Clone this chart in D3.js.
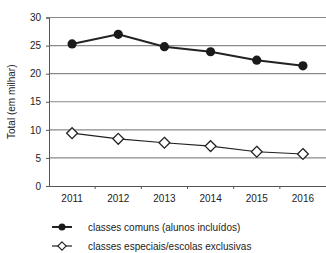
<!DOCTYPE html>
<html>
<head>
<meta charset="utf-8">
<script src="https://cdn.jsdelivr.net/npm/d3@7"></script>
<style>
  body { margin: 0; background: #fff; }
  text { font-family: 'Liberation Sans', Arial, sans-serif; fill: #222; }
</style>
</head>
<body>
<div id="chart"></div>
<script>
var years = ['2011', '2012', '2013', '2014', '2015', '2016'];
var comuns = [25.3, 27.0, 24.8, 23.9, 22.4, 21.4];
var especiais = [9.4, 8.4, 7.7, 7.1, 6.1, 5.7];
var yTicks = [0, 5, 10, 15, 20, 25, 30];
var seriesNames = ['classes comuns (alunos incluídos)', 'classes especiais/escolas exclusivas'];

var width = 326, height = 253;
var plotLeft = 49, plotRight = 326, plotTop = 17.5, plotBottom = 186;

var svg = d3.select('#chart')
  .append('svg')
    .attr('width', width)
    .attr('height', height);

var x = d3.scaleBand()
    .domain(years)
    .range([plotLeft, plotRight]);

var y = d3.scaleLinear()
    .domain([0, 30])
    .range([plotBottom, plotTop]);

// horizontal grid
svg.append('g')
  .selectAll('line')
  .data(yTicks.slice(1))
  .enter().append('line')
    .attr('x1', plotLeft)
    .attr('x2', plotRight)
    .attr('y1', function(d) { return y(d); })
    .attr('y2', function(d) { return y(d); })
    .attr('stroke', '#8a8a8a')
    .attr('stroke-width', 1.2);

// y axis
var yAxis = svg.append('g')
    .attr('transform', 'translate(' + plotLeft + ',0)')
    .call(d3.axisLeft(y).tickValues(yTicks).tickSize(3).tickPadding(5));
yAxis.select('.domain').attr('stroke', '#555');
yAxis.selectAll('line').attr('stroke', '#555');
yAxis.selectAll('text').attr('font-size', 10).attr('fill', '#222');

// x axis, ticks at band edges
var xAxis = svg.append('g')
    .attr('transform', 'translate(0,' + plotBottom + ')')
    .call(d3.axisBottom(x).tickSize(0).tickPadding(9));
xAxis.select('.domain').attr('stroke', '#555');
xAxis.selectAll('text').attr('font-size', 10).attr('fill', '#222');
svg.append('g')
  .selectAll('line')
  .data(years.slice(1))
  .enter().append('line')
    .attr('x1', function(d) { return x(d); })
    .attr('x2', function(d) { return x(d); })
    .attr('y1', plotBottom)
    .attr('y2', plotBottom + 3)
    .attr('stroke', '#555');

svg.append('text')
    .attr('transform', 'translate(15,' + ((plotTop + plotBottom) / 2) + ') rotate(-90)')
    .attr('text-anchor', 'middle')
    .attr('font-size', 10)
    .text('Total (em milhar)');

var line = d3.line()
    .x(function(d, i) { return x(years[i]) + x.bandwidth() / 2; })
    .y(function(d) { return y(d); });

// open diamonds series
svg.append('path')
    .datum(especiais)
    .attr('d', line)
    .attr('fill', 'none')
    .attr('stroke', '#222')
    .attr('stroke-width', 1.2);

var diamond = d3.symbol().type(d3.symbolDiamond2).size(75);
svg.append('g')
  .selectAll('path')
  .data(especiais)
  .enter().append('path')
    .attr('d', diamond)
    .attr('transform', function(d, i) {
      return 'translate(' + (x(years[i]) + x.bandwidth() / 2) + ',' + y(d) + ')';
    })
    .attr('fill', '#fff')
    .attr('stroke', '#222')
    .attr('stroke-width', 1.3);

// filled circles series
svg.append('path')
    .datum(comuns)
    .attr('d', line)
    .attr('fill', 'none')
    .attr('stroke', '#222')
    .attr('stroke-width', 2);

svg.append('g')
  .selectAll('circle')
  .data(comuns)
  .enter().append('circle')
    .attr('cx', function(d, i) { return x(years[i]) + x.bandwidth() / 2; })
    .attr('cy', function(d) { return y(d); })
    .attr('r', 4.6)
    .attr('fill', '#1a1a1a');

// legend
var legend = svg.append('g')
  .selectAll('g')
  .data(seriesNames)
  .enter().append('g')
    .attr('transform', function(d, i) { return 'translate(52,' + (227 + i * 19) + ')'; });

legend.append('line')
    .attr('x1', 0)
    .attr('x2', 20)
    .attr('stroke', '#222')
    .attr('stroke-width', function(d, i) { return i === 0 ? 2 : 1.2; });

legend.filter(function(d, i) { return i === 0; })
  .append('circle')
    .attr('cx', 10)
    .attr('r', 3.5)
    .attr('fill', '#1a1a1a');

legend.filter(function(d, i) { return i === 1; })
  .append('path')
    .attr('d', d3.symbol().type(d3.symbolDiamond2).size(45))
    .attr('transform', 'translate(10,0)')
    .attr('fill', '#fff')
    .attr('stroke', '#222')
    .attr('stroke-width', 1.1);

legend.append('text')
    .attr('x', 36)
    .attr('dy', '0.35em')
    .attr('font-size', 10)
    .text(function(d) { return d; });
</script>
</body>
</html>
